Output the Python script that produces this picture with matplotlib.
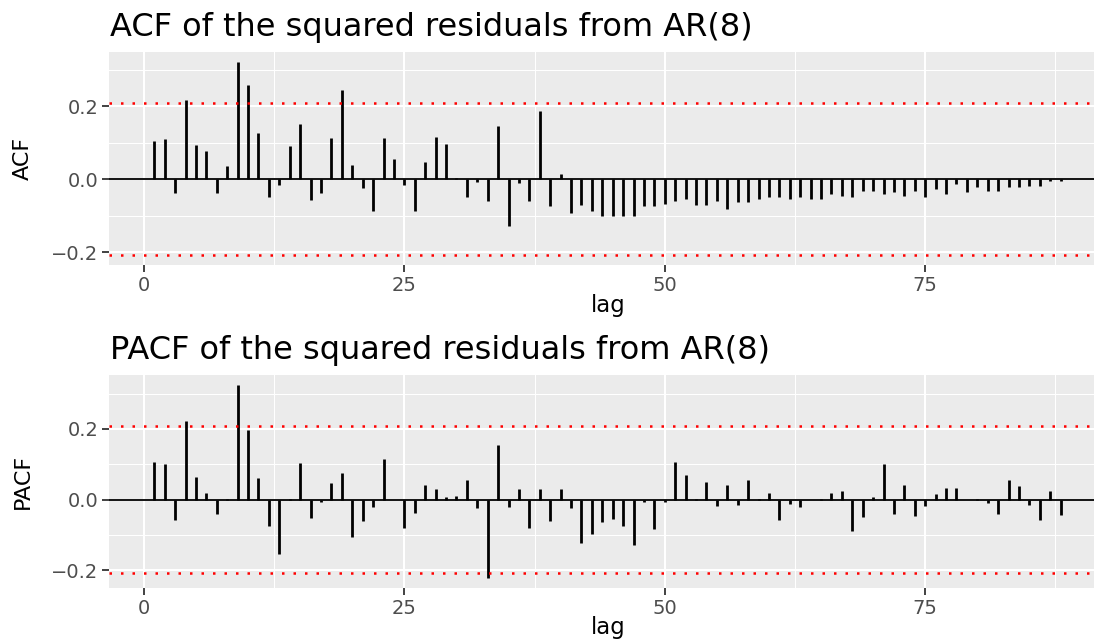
import numpy as np
from matplotlib import pyplot as plt

# values
lags = np.arange(1, 89)

acf_vals = [0.104, 0.110, -0.037, 0.217, 0.094, 0.078, -0.039, 0.037, 0.323, 0.260,
            0.128, -0.048, -0.017, 0.091, 0.151, -0.058, -0.039, 0.112, 0.244, 0.038,
            -0.023, -0.088, 0.112, 0.056, -0.017, -0.086, 0.047, 0.117, 0.097, 0.004,
            -0.050, -0.007, -0.060, 0.146, -0.128, -0.009, -0.061, 0.187, -0.074, 0.014,
            -0.092, -0.070, -0.088, -0.100, -0.100, -0.101, -0.100, -0.074, -0.073, -0.067,
            -0.059, -0.054, -0.072, -0.072, -0.059, -0.081, -0.063, -0.063, -0.054, -0.048,
            -0.050, -0.053, -0.050, -0.053, -0.053, -0.040, -0.045, -0.049, -0.032, -0.033,
            -0.040, -0.034, -0.045, -0.032, -0.048, -0.028, -0.041, -0.014, -0.036, -0.020,
            -0.033, -0.031, -0.020, -0.020, -0.019, -0.019, -0.004, -0.004]

pacf_vals = [0.105, 0.100, -0.059, 0.221, 0.064, 0.018, -0.041, 0.002, 0.325, 0.197,
             0.062, -0.075, -0.153, 0.001, 0.104, -0.052, -0.006, 0.048, 0.074, -0.106,
             -0.062, -0.022, 0.116, -0.001, -0.082, -0.039, 0.040, 0.030, 0.008, 0.011,
             0.055, -0.025, -0.223, 0.153, -0.022, 0.030, -0.082, 0.029, -0.061, 0.030,
             -0.024, -0.124, -0.098, -0.065, -0.056, -0.075, -0.128, -0.008, -0.084, -0.008,
             0.107, 0.069, 0.001, 0.051, -0.019, 0.042, -0.016, 0.055, 0.001, 0.019,
             -0.057, -0.013, -0.021, 0.000, 0.001, 0.019, 0.025, -0.090, -0.049, 0.008,
             0.100, -0.040, 0.040, -0.046, -0.017, 0.016, 0.033, 0.033, -0.002, 0.001,
             -0.011, -0.041, 0.056, 0.037, -0.016, -0.058, 0.025, -0.045]

ci_bound = 0.209

titles = ["ACF of the squared residuals from AR(8)", "PACF of the squared residuals from AR(8)"]
ylabels = ["ACF", "PACF"]
x_ticks = [0, 25, 50, 75]
y_ticks = [-0.2, 0.0, 0.2]

W, H = 1094, 643
fig = plt.figure(figsize=(W / 100, H / 100), dpi=100)

# panel boxes in pixels: (top, bottom)
panels = [(52, 265), (375, 588)]
ylims = [(-0.2356, 0.3496), (-0.2504, 0.3524)]
title_base = [36, 359]
xlab_base = [312, 634]

for i, vals in enumerate([acf_vals, pacf_vals]):
    top, bot = panels[i]
    ax = fig.add_axes([109 / W, 1 - bot / H, 1 - 109 / W, (bot - top) / H])
    ax.set_facecolor('#EBEBEB')
    for s in ax.spines.values():
        s.set_visible(False)

    ax.set_xlim(-3.35, 91.2)
    ax.set_ylim(*ylims[i])
    ax.set_xticks(x_ticks)
    ax.set_xticks([12.5, 37.5, 62.5, 87.5], minor=True)
    ax.set_yticks(y_ticks)
    ax.set_yticks([-0.1, 0.1, 0.3], minor=True)
    ax.set_yticklabels(['\u22120.2', '0.0', '0.2'])
    ax.grid(which='major', color='white', linewidth=1.5)
    ax.grid(which='minor', color='white', linewidth=0.75)
    ax.set_axisbelow(True)
    ax.tick_params(which='major', length=4.7, width=1.3, color='#333333',
                   labelsize=14, labelcolor='#4D4D4D', pad=3)
    ax.tick_params(which='minor', length=0)

    ax.axhline(0, color='black', linewidth=1.3, zorder=2)
    ax.vlines(lags, 0, vals, color='black', linewidth=2.0, zorder=3)
    for b in [ci_bound, -ci_bound]:
        ax.axhline(b, color='red', linewidth=1.8, linestyle=(0, (1, 3.6)), zorder=4)

    fig.text(110 / W, 1 - title_base[i] / H, titles[i], fontsize=23, va='baseline', ha='left')
    fig.text(608 / W, 1 - xlab_base[i] / H, 'lag', fontsize=16.5, va='baseline', ha='center')
    fig.text(23 / W, 1 - (top + bot) / 2 / H, ylabels[i], fontsize=16, rotation=90,
             va='center', ha='center')

plt.savefig('out.png', dpi=100)
